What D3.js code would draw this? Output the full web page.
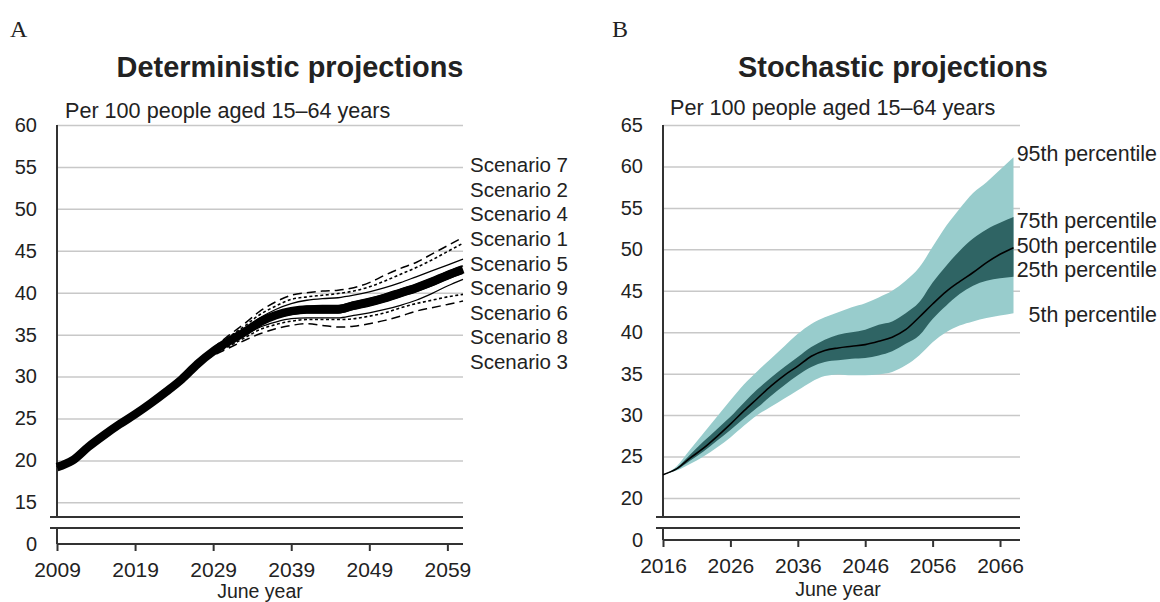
<!DOCTYPE html>
<html>
<head>
<meta charset="utf-8">
<script src="https://cdn.jsdelivr.net/npm/d3@7"></script>
<style>
body { margin: 0; background: #fff; }
text { font-family: "Liberation Sans", Arial, sans-serif; fill: #222; }
</style>
</head>
<body>
<svg width="1160" height="602"></svg>
<script>

// ---- panel A : deterministic scenarios ----
const yearsA = [2009,2011,2013,2015,2017,2019,2021,2023,2025,2027,2029,2031,2033,2035,2037,2039,2041,2043,2045,2047,2049,2051,2053,2055,2057,2059,2061];

const scen7 = [19.2,20.0,21.6,23.0,24.3,25.5,26.8,28.2,29.8,31.7,33.4,34.9,36.3,37.8,38.9,39.7,40.0,40.2,40.3,40.6,41.2,42.1,42.9,43.6,44.6,45.6,46.6];
const scen2 = [19.2,20.0,21.6,23.0,24.3,25.5,26.8,28.2,29.8,31.6,33.3,34.7,36.0,37.4,38.4,39.2,39.5,39.7,39.9,40.2,40.7,41.4,42.2,43.0,43.9,44.9,45.9];
const scen4 = [19.2,20.0,21.6,23.0,24.3,25.5,26.8,28.2,29.7,31.6,33.2,34.5,35.7,37.0,38.0,38.7,39.1,39.3,39.4,39.7,40.1,40.6,41.2,41.9,42.6,43.3,44.0];
const scen1 = [19.2,20.0,21.6,23.0,24.3,25.5,26.8,28.2,29.7,31.5,33.1,34.3,35.5,36.7,37.6,38.1,38.4,38.5,38.5,38.9,39.3,39.8,40.4,41.0,41.7,42.5,43.2];
const scen5 = [19.2,20.0,21.6,23.0,24.3,25.5,26.8,28.2,29.7,31.5,33.0,34.2,35.3,36.5,37.3,37.8,38.0,38.0,38.0,38.5,38.9,39.4,40.0,40.6,41.3,42.1,42.8];
const scen9 = [19.2,20.0,21.6,23.0,24.3,25.5,26.8,28.2,29.7,31.4,32.9,34.0,35.1,36.2,37.0,37.4,37.6,37.6,37.6,38.0,38.4,38.9,39.5,40.1,40.8,41.6,42.3];
const scen6 = [19.2,20.0,21.6,23.0,24.3,25.5,26.8,28.2,29.6,31.4,32.8,33.9,34.9,35.9,36.5,36.9,37.0,37.0,37.0,37.3,37.6,38.0,38.5,39.1,39.9,40.8,41.6];
const scen8 = [19.2,20.0,21.6,23.0,24.3,25.5,26.8,28.2,29.6,31.3,32.6,33.6,34.6,35.6,36.2,36.6,36.8,36.8,36.8,36.9,37.2,37.6,38.2,38.7,39.1,39.5,39.8];
const scen3 = [19.2,20.0,21.6,23.0,24.3,25.5,26.8,28.2,29.6,31.3,32.5,33.4,34.3,35.1,35.7,36.1,36.3,36.1,35.9,36.0,36.3,36.7,37.2,37.8,38.2,38.6,39.0];

const scenLabels = ["Scenario 7","Scenario 2","Scenario 4","Scenario 1","Scenario 5","Scenario 9","Scenario 6","Scenario 8","Scenario 3"];

const yTicksA = [15,20,25,30,35,40,45,50,55,60];
const xTicksA = [2009,2019,2029,2039,2049,2059];

// ---- panel B : stochastic percentiles ----
const yearsB = [2016,2018,2020,2022,2024,2026,2028,2030,2032,2034,2036,2038,2040,2042,2044,2046,2048,2050,2052,2054,2056,2058,2060,2062,2064,2066,2068];

const p95 = [22.8,23.8,25.8,27.8,29.8,31.8,33.7,35.3,36.8,38.3,39.8,41.0,41.8,42.4,43.0,43.5,44.2,45.0,46.2,47.8,50.3,52.8,54.9,56.8,58.1,59.6,61.1];
const p75 = [22.8,23.6,25.2,26.8,28.3,29.8,31.5,33.1,34.5,35.8,37.0,38.2,39.1,39.7,40.0,40.3,40.9,41.3,42.3,43.6,46.0,48.0,49.8,51.3,52.4,53.2,53.9];
const p50 = [22.8,23.5,24.8,26.0,27.4,28.9,30.5,32.0,33.5,34.8,35.9,37.1,37.8,38.1,38.3,38.5,38.9,39.4,40.3,41.8,43.4,44.9,46.1,47.2,48.4,49.4,50.2];
const p25 = [22.8,23.4,24.5,25.6,26.9,28.2,29.6,30.9,32.3,33.6,34.8,35.8,36.4,36.6,36.8,36.9,37.2,37.7,38.6,39.6,41.6,43.2,44.6,45.6,46.2,46.5,46.7];
const p05 = [22.8,23.3,24.1,25.0,26.1,27.3,28.7,30.0,31.0,32.0,33.0,34.0,34.7,34.9,34.8,34.8,34.9,35.2,36.0,37.2,38.8,40.0,40.8,41.3,41.7,42.0,42.3];

const pctLabels = ["95th percentile","75th percentile","50th percentile","25th percentile","5th percentile"];
const pctLabelAt = [61.6,53.5,50.5,47.6,42.1];

const yTicksB = [20,25,30,35,40,45,50,55,60,65];
const xTicksB = [2016,2026,2036,2046,2056,2066];


const svg = d3.select("svg");
const AXIS = "#333", GRID = "#c8c8c8";


function frame(x, yTop, yBot, yTicks, xTicks, lineEnd){

  const x0 = x.range()[0];
  const g = svg.append("g");

  // grid + y labels (upper part)
  g.append("g")
    .attr("transform", "translate(" + x0 + ",0)")
    .call(d3.axisLeft(yTop).tickValues(yTicks).tickSize(-(lineEnd - x0)).tickPadding(20))
    .call(a => a.select(".domain").remove())
    .call(a => a.selectAll(".tick line").attr("stroke", GRID).attr("stroke-width", 1.5))
    .call(a => a.selectAll(".tick text").attr("font-size", 20).attr("fill", "#222"));

  // zero below the break
  g.append("g")
    .attr("transform", "translate(" + x0 + ",0)")
    .call(d3.axisLeft(yBot).tickValues([0]).tickFormat(d3.format("d")).tickSize(0).tickPadding(20))
    .call(a => a.select(".domain").remove())
    .call(a => a.selectAll(".tick text").attr("font-size", 20).attr("fill", "#222"));

  // x axis
  g.append("g")
    .attr("transform", "translate(0," + yBot(0) + ")")
    .call(d3.axisBottom(x).tickValues(xTicks).tickFormat(d3.format("d")).tickSize(7).tickPadding(11).tickSizeOuter(0))
    .call(a => a.select(".domain").remove())
    .call(a => a.selectAll(".tick line").attr("stroke", AXIS).attr("stroke-width", 2))
    .call(a => a.selectAll(".tick text").attr("font-size", 21).attr("fill", "#222"));

  const segs = [
    [x0, yTop.range()[1], x0, yTop.range()[0]],
    [x0, yBot.range()[1], x0, yBot(0)],
    [x0 - 7, yTop.range()[0], lineEnd, yTop.range()[0]],
    [x0 - 7, yBot.range()[1], lineEnd, yBot.range()[1]],
    [x0, yBot(0), lineEnd, yBot(0)]
  ];
  g.selectAll("line.ax").data(segs).enter()
    .append("line").attr("class", "ax")
    .attr("x1", d => d[0]).attr("y1", d => d[1])
    .attr("x2", d => d[2]).attr("y2", d => d[3])
    .attr("stroke", AXIS).attr("stroke-width", 2);

  return g;
}


function heading(letter, lx, title, tx, sub, sx, sy, xl, xly){
  svg.append("text").attr("x", lx).attr("y", 37).text(letter)
    .style("font-family", "'Liberation Serif', 'Times New Roman', serif").attr("font-size", 24);
  svg.append("text").attr("x", tx).attr("y", 77).attr("text-anchor", "middle")
    .attr("font-size", 28.9).attr("font-weight", "bold").text(title);
  svg.append("text").attr("x", sx).attr("y", sy).attr("font-size", 21.6).text(sub);
  svg.append("text").attr("x", xl).attr("y", xly).attr("text-anchor", "middle")
    .attr("font-size", 19.5).text("June year");
}


// ---------- A ----------
const xA = d3.scaleLinear().domain([2009, 2061]).range([57, 463]);
const yA = d3.scaleLinear().domain([13.25, 60]).range([517, 125]);
const yA0 = d3.scaleLinear().domain([0, 2]).range([544, 528]);

frame(xA, yA, yA0, yTicksA, xTicksA, 463);
heading("A", 10, "Deterministic projections", 290, "Per 100 people aged 15\u201364 years", 65, 118, 260, 598);

const scen = [
  { v: scen7, dash: "9,5", w: 1.5 },
  { v: scen2, dash: "3,2.5", w: 1.6 },
  { v: scen4, dash: null, w: 1.3 },
  { v: scen1, dash: null, w: 1.3 },
  { v: scen9, dash: null, w: 1.3 },
  { v: scen6, dash: null, w: 1.3 },
  { v: scen8, dash: "3,2.5", w: 1.6 },
  { v: scen3, dash: "9,5", w: 1.5 },
  { v: scen5, dash: null, w: 8.5 }
];

const lineA = d3.line().x((d, i) => xA(yearsA[i])).y(d => yA(d)).curve(d3.curveMonotoneX);

svg.append("g").selectAll("path")
  .data(scen).enter()
  .append("path")
  .attr("d", d => lineA(d.v))
  .attr("fill", "none")
  .attr("stroke", "#000")
  .attr("stroke-width", d => d.w)
  .attr("stroke-dasharray", d => d.dash);

const labA = d3.scalePoint().domain(scenLabels).range([172, 369]);
svg.append("g").selectAll("text")
  .data(scenLabels).enter()
  .append("text")
  .attr("x", 470).attr("y", d => labA(d))
  .attr("font-size", 20.5)
  .text(d => d);


// ---------- B ----------
const xB = d3.scaleLinear().domain([2016, 2068]).range([663, 1013.5]);
const yB = d3.scaleLinear().domain([17.7, 65]).range([517, 125]);
const yB0 = d3.scaleLinear().domain([0, 1.5]).range([540, 528]);

frame(xB, yB, yB0, yTicksB, xTicksB, 1020);
heading("B", 612, "Stochastic projections", 893, "Per 100 people aged 15\u201364 years", 670, 115, 838, 596);

const band = (lo, hi) => d3.area()
  .x((d, i) => xB(yearsB[i]))
  .y0((d, i) => yB(lo[i]))
  .y1((d, i) => yB(hi[i]))
  .curve(d3.curveMonotoneX);

svg.append("path").datum(p95).attr("d", band(p05, p95)).attr("fill", "#98cccc");
svg.append("path").datum(p75).attr("d", band(p25, p75)).attr("fill", "#2f6464");

svg.append("path")
  .datum(p50)
  .attr("d", d3.line().x((d, i) => xB(yearsB[i])).y(d => yB(d)).curve(d3.curveMonotoneX))
  .attr("fill", "none")
  .attr("stroke", "#000")
  .attr("stroke-width", 1.6);

svg.append("g").selectAll("text")
  .data(pctLabels).enter()
  .append("text")
  .attr("x", 1157)
  .attr("y", (d, i) => yB(pctLabelAt[i]))
  .attr("dy", "0.35em")
  .attr("text-anchor", "end")
  .attr("font-size", 21.4)
  .text(d => d);

</script>
</body>
</html>
